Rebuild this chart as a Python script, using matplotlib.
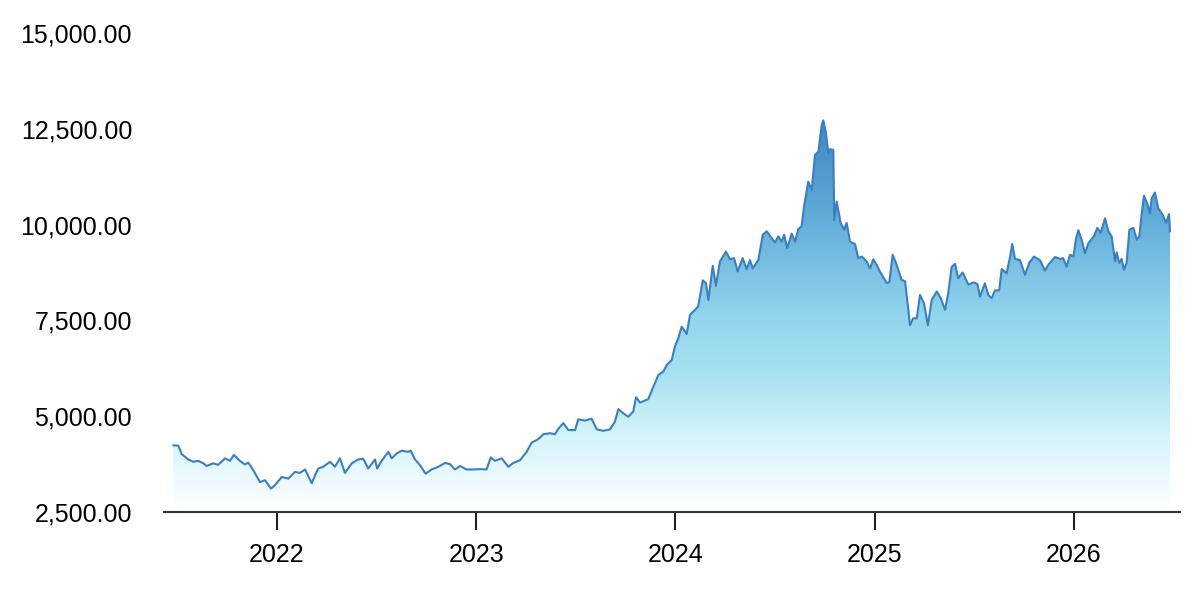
import numpy as np
import matplotlib.pyplot as plt
from matplotlib.colors import LinearSegmentedColormap
from matplotlib.patches import Polygon
from matplotlib.ticker import FuncFormatter

# time in decimal years
t_2021_22 = [2021.480, 2021.505, 2021.522, 2021.555, 2021.580, 2021.605, 2021.630, 2021.647,
             2021.680, 2021.705, 2021.739, 2021.764, 2021.784, 2021.814, 2021.839, 2021.856,
             2021.881, 2021.915, 2021.940, 2021.970, 2021.990, 2022.024, 2022.057, 2022.090,
             2022.115, 2022.141, 2022.174, 2022.207, 2022.232, 2022.266, 2022.291, 2022.316,
             2022.341, 2022.375, 2022.408, 2022.433, 2022.458]
v_2021_22 = [4240, 4230, 4010, 3870, 3810, 3835, 3770, 3700,
             3770, 3730, 3900, 3835, 3990, 3835, 3740, 3790,
             3590, 3280, 3330, 3110, 3200, 3415, 3370, 3545,
             3520, 3610, 3255, 3635, 3680, 3810, 3680, 3900,
             3520, 3770, 3870, 3890, 3635]

t_2022_23 = [2022.492, 2022.503, 2022.525, 2022.559, 2022.576, 2022.601, 2022.626, 2022.659,
             2022.671, 2022.693, 2022.718, 2022.746, 2022.776, 2022.810, 2022.843, 2022.868,
             2022.893, 2022.918, 2022.952, 2022.985, 2023.019, 2023.052, 2023.073, 2023.094,
             2023.128, 2023.161, 2023.186, 2023.220, 2023.253, 2023.278, 2023.311, 2023.337,
             2023.370, 2023.395, 2023.412, 2023.437, 2023.462]
v_2022_23 = [3870, 3635, 3835, 4070, 3900, 4030, 4100, 4070,
             4100, 3870, 3720, 3500, 3610, 3680, 3780, 3750,
             3610, 3700, 3610, 3610, 3620, 3610, 3925, 3835,
             3900, 3680, 3780, 3850, 4070, 4310, 4400, 4530,
             4555, 4530, 4670, 4820, 4640]

t_2023_24 = [2023.496, 2023.512, 2023.546, 2023.579, 2023.605, 2023.638, 2023.671, 2023.696,
             2023.713, 2023.738, 2023.763, 2023.788, 2023.802, 2023.822, 2023.863, 2023.889,
             2023.914, 2023.939, 2023.956, 2023.981, 2023.997, 2024.014, 2024.031, 2024.056,
             2024.073, 2024.098, 2024.114, 2024.137, 2024.153, 2024.165, 2024.187, 2024.203,
             2024.223, 2024.253, 2024.274, 2024.294, 2024.312, 2024.337, 2024.357, 2024.374,
             2024.387, 2024.416, 2024.438, 2024.458, 2024.483]
v_2023_24 = [4635, 4920, 4885, 4935, 4655, 4620, 4655, 4855,
             5185, 5075, 4985, 5120, 5495, 5355, 5445, 5765,
             6075, 6165, 6335, 6465, 6815, 7035, 7335, 7145,
             7645, 7775, 7865, 8545, 8475, 8035, 8925, 8405,
             9035, 9295, 9095, 9125, 8775, 9125, 8835, 9075,
             8855, 9075, 9735, 9825, 9645]

t_2024_25 = [2024.499, 2024.516, 2024.533, 2024.545, 2024.561, 2024.583, 2024.600, 2024.616,
             2024.633, 2024.645, 2024.666, 2024.684, 2024.700, 2024.717, 2024.734, 2024.742,
             2024.755, 2024.767, 2024.775, 2024.792, 2024.797, 2024.809, 2024.829, 2024.846,
             2024.859, 2024.876, 2024.901, 2024.917, 2024.935, 2024.960, 2024.976, 2024.993,
             2025.010, 2025.026, 2025.060, 2025.073, 2025.090, 2025.107, 2025.135, 2025.152,
             2025.160, 2025.177, 2025.193, 2025.211, 2025.227, 2025.247, 2025.267, 2025.286,
             2025.311, 2025.331, 2025.353, 2025.369, 2025.386, 2025.403, 2025.419, 2025.441,
             2025.470]
v_2024_25 = [9535, 9695, 9555, 9735, 9385, 9765, 9555, 9885,
             9955, 10470, 11120, 10910, 11820, 11900, 12605, 12720,
             12390, 11860, 11970, 11950, 10120, 10600, 10045, 9865,
             10045, 9555, 9495, 9125, 9165, 9035, 8855, 9095,
             8945, 8775, 8475, 8495, 9215, 8995, 8560, 8520,
             8165, 7375, 7555, 7555, 8165, 7945, 7375, 8035,
             8255, 8085, 7775, 8215, 8895, 8975, 8600, 8750,
             8435]

t_2025_26 = [2025.495, 2025.515, 2025.528, 2025.553, 2025.570, 2025.587, 2025.603, 2025.625,
             2025.637, 2025.662, 2025.679, 2025.690, 2025.704, 2025.729, 2025.754, 2025.776,
             2025.799, 2025.829, 2025.854, 2025.871, 2025.905, 2025.930, 2025.946, 2025.963,
             2025.980, 2025.997, 2026.010, 2026.022, 2026.039, 2026.055, 2026.072, 2026.100,
             2026.117, 2026.134, 2026.156, 2026.172, 2026.189, 2026.206, 2026.214, 2026.227,
             2026.239, 2026.251, 2026.264, 2026.278, 2026.298, 2026.315, 2026.328, 2026.336,
             2026.351, 2026.368, 2026.381, 2026.390, 2026.406, 2026.423, 2026.445, 2026.462,
             2026.477, 2026.482]
v_2025_26 = [8490, 8450, 8120, 8470, 8160, 8080, 8280, 8290,
             8840, 8730, 9155, 9495, 9105, 9075, 8690, 9010,
             9165, 9075, 8800, 8950, 9155, 9105, 9125, 8900,
             9215, 9165, 9625, 9855, 9595, 9255, 9515, 9695,
             9915, 9785, 10165, 9825, 9695, 9040, 9275, 9000,
             9105, 8820, 9000, 9865, 9915, 9605, 9695, 10105,
             10755, 10545, 10295, 10685, 10835, 10425, 10255, 10045,
             10275, 9825]

year_ticks = [2022, 2023, 2024, 2025, 2026]
y_ticks = [2500, 5000, 7500, 10000, 12500, 15000]

t = np.array(t_2021_22 + t_2022_23 + t_2023_24 + t_2024_25 + t_2025_26)
v = np.array(v_2021_22 + v_2022_23 + v_2023_24 + v_2024_25 + v_2025_26)

plt.rcParams['font.family'] = ['Liberation Sans', 'DejaVu Sans']

fig = plt.figure(figsize=(12, 6), dpi=100)
ax = fig.add_axes([164 / 1200, 88 / 600, 1016 / 1200, 479 / 600])

x0, x1 = 2021.433, 2026.532
y0, y1 = 2500, 15000
ax.set_xlim(x0, x1)
ax.set_ylim(y0, y1)

# gradient fill below the line (white at the bottom, blue at the peak)
cmap = LinearSegmentedColormap.from_list(
    'area', [(0.0, '#ffffff'), (0.2, '#d2f4fb'), (0.35, '#a8e2f1'), (0.5, '#91d6ed'),
             (0.75, '#62acd9'), (1.0, '#3f88c5')])
grad = np.linspace(0, 1, 256).reshape(-1, 1)
img = ax.imshow(grad, cmap=cmap, origin='lower', aspect='auto',
                extent=(t[0], t[-1], y0, v.max()), zorder=1)
verts = np.vstack([np.column_stack([t, v]), [[t[-1], y0], [t[0], y0]]])
clip = Polygon(verts, closed=True, facecolor='none', edgecolor='none', transform=ax.transData)
ax.add_patch(clip)
img.set_clip_path(clip)

ax.plot(t, v, color='#3b7fc0', lw=1.5, zorder=2)

ax.set_xticks(year_ticks)
ax.set_xticklabels([str(y) for y in year_ticks])
ax.set_yticks(y_ticks)
ax.yaxis.set_major_formatter(FuncFormatter(lambda val, pos: f'{val:,.2f}'))

for side in ['top', 'right', 'left']:
    ax.spines[side].set_visible(False)
ax.spines['bottom'].set_color('#333333')
ax.spines['bottom'].set_linewidth(1.5)

ax.tick_params(axis='x', length=13, width=1.5, color='#222222', pad=9, labelsize=18)
ax.tick_params(axis='y', length=0, pad=23, labelsize=18)

fig.savefig('out.png', dpi=100)
